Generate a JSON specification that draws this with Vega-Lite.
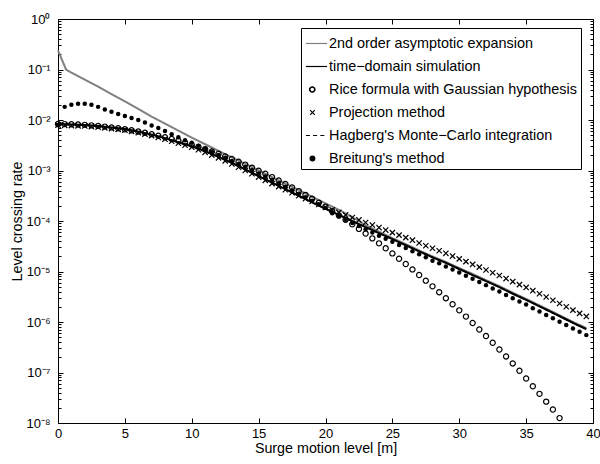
{
  "$schema": "https://vega.github.io/schema/vega-lite/v6.json",
  "width": 535,
  "height": 404,
  "autosize": {"type": "none"},
  "padding": {"left": 58, "top": 19, "right": 7, "bottom": 41},
  "background": "white",
  "config": {
    "view": {"stroke": "black", "strokeWidth": 1},
    "font": "Liberation Sans",
    "axis": {"grid": false, "domain": false, "tickColor": "black", "tickWidth": 1, "labelColor": "black", "titleColor": "black", "labelFont": "Liberation Sans", "titleFont": "Liberation Sans", "titleFontWeight": "normal"}
  },
  "datasets": {
    "gray": [{"x":0,"y":0.24},{"x":0.6,"y":0.1},{"x":1,"y":0.0871},{"x":2,"y":0.0631},{"x":3,"y":0.0457},{"x":4,"y":0.0324},{"x":5,"y":0.0234},{"x":6,"y":0.0166},{"x":7,"y":0.0117},{"x":8,"y":0.00851},{"x":9,"y":0.00617},{"x":10,"y":0.00447},{"x":11,"y":0.00331},{"x":12,"y":0.00245},{"x":13,"y":0.00182},{"x":14,"y":0.00135},{"x":15,"y":0.001},{"x":16,"y":0.000741},{"x":17,"y":0.00055},{"x":18,"y":0.000407},{"x":19,"y":0.000302},{"x":20,"y":0.000224},{"x":21,"y":0.000166},{"x":22,"y":0.00012},{"x":23,"y":8.32e-5},{"x":24,"y":6.17e-5},{"x":25,"y":4.57e-5},{"x":26,"y":3.47e-5},{"x":27,"y":2.63e-5},{"x":28,"y":2.0e-5},{"x":29,"y":1.55e-5},{"x":30,"y":1.17e-5},{"x":31,"y":8.91e-6},{"x":32,"y":6.76e-6},{"x":33,"y":5.13e-6},{"x":34,"y":3.8e-6},{"x":35,"y":2.88e-6},{"x":36,"y":2.14e-6},{"x":37,"y":1.58e-6},{"x":38,"y":1.17e-6},{"x":39,"y":8.71e-7},{"x":39.5,"y":7.59e-7}],
    "sim": [{"x":0,"y":8.32e-3},{"x":1,"y":8.13e-3},{"x":2,"y":7.94e-3},{"x":3,"y":7.59e-3},{"x":4,"y":7.08e-3},{"x":5,"y":6.61e-3},{"x":6,"y":5.89e-3},{"x":7,"y":5.13e-3},{"x":8,"y":4.37e-3},{"x":9,"y":3.63e-3},{"x":10,"y":3.02e-3},{"x":11,"y":2.40e-3},{"x":12,"y":1.86e-3},{"x":13,"y":1.41e-3},{"x":14,"y":1.05e-3},{"x":15,"y":7.76e-4},{"x":16,"y":5.75e-4},{"x":17,"y":4.27e-4},{"x":18,"y":3.16e-4},{"x":19,"y":2.34e-4},{"x":20,"y":1.74e-4},{"x":21,"y":1.32e-4},{"x":22,"y":1.00e-4},{"x":23,"y":7.59e-5},{"x":24,"y":5.75e-5},{"x":25,"y":4.37e-5},{"x":26,"y":3.31e-5},{"x":27,"y":2.51e-5},{"x":28,"y":1.91e-5},{"x":29,"y":1.48e-5},{"x":30,"y":1.12e-5},{"x":31,"y":8.51e-6},{"x":32,"y":6.46e-6},{"x":33,"y":4.90e-6},{"x":34,"y":3.63e-6},{"x":35,"y":2.75e-6},{"x":36,"y":2.04e-6},{"x":37,"y":1.51e-6},{"x":38,"y":1.12e-6},{"x":39,"y":8.32e-7},{"x":39.5,"y":7.24e-7}],
    "rice": [{"x":0,"y":8.32e-3},{"x":0.5,"y":8.30e-3},{"x":1,"y":8.24e-3},{"x":1.5,"y":8.15e-3},{"x":2,"y":8.02e-3},{"x":2.5,"y":7.83e-3},{"x":3,"y":7.64e-3},{"x":3.5,"y":7.41e-3},{"x":4,"y":7.14e-3},{"x":4.5,"y":6.87e-3},{"x":5,"y":6.56e-3},{"x":5.5,"y":6.25e-3},{"x":6,"y":5.92e-3},{"x":6.5,"y":5.58e-3},{"x":7,"y":5.24e-3},{"x":7.5,"y":4.89e-3},{"x":8,"y":4.55e-3},{"x":8.5,"y":4.21e-3},{"x":9,"y":3.87e-3},{"x":9.5,"y":3.55e-3},{"x":10,"y":3.24e-3},{"x":10.5,"y":2.94e-3},{"x":11,"y":2.65e-3},{"x":11.5,"y":2.39e-3},{"x":12,"y":2.14e-3},{"x":12.5,"y":1.90e-3},{"x":13,"y":1.69e-3},{"x":13.5,"y":1.49e-3},{"x":14,"y":1.31e-3},{"x":14.5,"y":1.14e-3},{"x":15,"y":9.93e-4},{"x":15.5,"y":8.61e-4},{"x":16,"y":7.41e-4},{"x":16.5,"y":6.37e-4},{"x":17,"y":5.43e-4},{"x":17.5,"y":4.61e-4},{"x":18,"y":3.91e-4},{"x":18.5,"y":3.29e-4},{"x":19,"y":2.75e-4},{"x":19.5,"y":2.30e-4},{"x":20,"y":1.91e-4},{"x":20.5,"y":1.57e-4},{"x":21,"y":1.29e-4},{"x":21.5,"y":1.06e-4},{"x":22,"y":8.63e-5},{"x":22.5,"y":6.98e-5},{"x":23,"y":5.64e-5},{"x":23.5,"y":4.53e-5},{"x":24,"y":3.61e-5},{"x":24.5,"y":2.88e-5},{"x":25,"y":2.28e-5},{"x":25.5,"y":1.79e-5},{"x":26,"y":1.41e-5},{"x":26.5,"y":1.10e-5},{"x":27,"y":8.53e-6},{"x":27.5,"y":6.59e-6},{"x":28,"y":5.08e-6},{"x":28.5,"y":3.89e-6},{"x":29,"y":2.96e-6},{"x":29.5,"y":2.25e-6},{"x":30,"y":1.70e-6},{"x":30.5,"y":1.28e-6},{"x":31,"y":9.55e-7},{"x":31.5,"y":7.11e-7},{"x":32,"y":5.27e-7},{"x":32.5,"y":3.88e-7},{"x":33,"y":2.85e-7},{"x":33.5,"y":2.08e-7},{"x":34,"y":1.51e-7},{"x":34.5,"y":1.08e-7},{"x":35,"y":7.6e-8},{"x":35.5,"y":5.35e-8},{"x":36,"y":3.78e-8},{"x":36.5,"y":2.65e-8},{"x":37,"y":1.85e-8},{"x":37.5,"y":1.25e-8}],
    "proj": [{"x":0,"y":7.94e-3},{"x":0.5,"y":7.85e-3},{"x":1,"y":7.76e-3},{"x":1.5,"y":7.67e-3},{"x":2,"y":7.59e-3},{"x":2.5,"y":7.41e-3},{"x":3,"y":7.24e-3},{"x":3.5,"y":7.00e-3},{"x":4,"y":6.76e-3},{"x":4.5,"y":6.53e-3},{"x":5,"y":6.31e-3},{"x":5.5,"y":5.96e-3},{"x":6,"y":5.62e-3},{"x":6.5,"y":5.25e-3},{"x":7,"y":4.90e-3},{"x":7.5,"y":4.52e-3},{"x":8,"y":4.17e-3},{"x":8.5,"y":3.80e-3},{"x":9,"y":3.47e-3},{"x":9.5,"y":3.16e-3},{"x":10,"y":2.88e-3},{"x":10.5,"y":2.57e-3},{"x":11,"y":2.29e-3},{"x":11.5,"y":2.02e-3},{"x":12,"y":1.78e-3},{"x":12.5,"y":1.55e-3},{"x":13,"y":1.35e-3},{"x":13.5,"y":1.16e-3},{"x":14,"y":1.00e-3},{"x":14.5,"y":8.61e-4},{"x":15,"y":7.41e-4},{"x":15.5,"y":6.38e-4},{"x":16,"y":5.50e-4},{"x":16.5,"y":4.79e-4},{"x":17,"y":4.17e-4},{"x":17.5,"y":3.63e-4},{"x":18,"y":3.16e-4},{"x":18.5,"y":2.77e-4},{"x":19,"y":2.43e-4},{"x":19.5,"y":2.13e-4},{"x":20,"y":1.86e-4},{"x":20.5,"y":1.66e-4},{"x":21,"y":1.48e-4},{"x":21.5,"y":1.32e-4},{"x":22,"y":1.17e-4},{"x":22.5,"y":1.05e-4},{"x":23,"y":9.33e-5},{"x":23.5,"y":8.32e-5},{"x":24,"y":7.41e-5},{"x":24.5,"y":6.61e-5},{"x":25,"y":5.89e-5},{"x":25.5,"y":5.25e-5},{"x":26,"y":4.68e-5},{"x":26.5,"y":4.17e-5},{"x":27,"y":3.67e-5},{"x":27.5,"y":3.24e-5},{"x":28,"y":2.88e-5},{"x":28.5,"y":2.57e-5},{"x":29,"y":2.29e-5},{"x":29.5,"y":2.02e-5},{"x":30,"y":1.78e-5},{"x":30.5,"y":1.57e-5},{"x":31,"y":1.38e-5},{"x":31.5,"y":1.22e-5},{"x":32,"y":1.07e-5},{"x":32.5,"y":9.44e-6},{"x":33,"y":8.32e-6},{"x":33.5,"y":7.24e-6},{"x":34,"y":6.31e-6},{"x":34.5,"y":5.50e-6},{"x":35,"y":4.84e-6},{"x":35.5,"y":4.17e-6},{"x":36,"y":3.63e-6},{"x":36.5,"y":3.13e-6},{"x":37,"y":2.69e-6},{"x":37.5,"y":2.32e-6},{"x":38,"y":2.00e-6},{"x":38.5,"y":1.72e-6},{"x":39,"y":1.48e-6},{"x":39.5,"y":1.29e-6}],
    "hag": [{"x":0,"y":8.32e-3},{"x":1,"y":8.13e-3},{"x":2,"y":7.94e-3},{"x":3,"y":7.59e-3},{"x":4,"y":7.08e-3},{"x":5,"y":6.61e-3},{"x":6,"y":5.89e-3},{"x":7,"y":5.13e-3},{"x":8,"y":4.37e-3},{"x":9,"y":3.63e-3},{"x":10,"y":3.02e-3},{"x":11,"y":2.40e-3},{"x":12,"y":1.86e-3},{"x":13,"y":1.41e-3},{"x":14,"y":1.05e-3},{"x":15,"y":7.76e-4},{"x":16,"y":5.75e-4},{"x":17,"y":4.27e-4},{"x":18,"y":3.16e-4},{"x":19,"y":2.34e-4},{"x":20,"y":1.74e-4},{"x":21,"y":1.32e-4},{"x":22,"y":1.00e-4},{"x":23,"y":7.59e-5},{"x":24,"y":5.75e-5},{"x":25,"y":4.37e-5},{"x":26,"y":3.31e-5},{"x":27,"y":2.51e-5},{"x":28,"y":1.91e-5},{"x":29,"y":1.48e-5},{"x":30,"y":1.12e-5},{"x":31,"y":8.51e-6},{"x":32,"y":6.46e-6},{"x":33,"y":4.90e-6},{"x":34,"y":3.63e-6},{"x":35,"y":2.75e-6},{"x":36,"y":2.04e-6},{"x":37,"y":1.51e-6},{"x":38,"y":1.12e-6},{"x":39,"y":8.32e-7},{"x":39.5,"y":7.24e-7}],
    "breit": [{"x":0,"y":7.94e-3},{"x":0.5,"y":1.82e-2},{"x":1,"y":2.00e-2},{"x":1.5,"y":2.09e-2},{"x":2,"y":2.09e-2},{"x":2.5,"y":2.00e-2},{"x":3,"y":1.82e-2},{"x":3.5,"y":1.62e-2},{"x":4,"y":1.45e-2},{"x":4.5,"y":1.32e-2},{"x":5,"y":1.20e-2},{"x":5.5,"y":1.10e-2},{"x":6,"y":1.00e-2},{"x":6.5,"y":8.91e-3},{"x":7,"y":7.76e-3},{"x":7.5,"y":6.92e-3},{"x":8,"y":6.03e-3},{"x":8.5,"y":5.25e-3},{"x":9,"y":4.57e-3},{"x":9.5,"y":3.98e-3},{"x":10,"y":3.55e-3},{"x":10.5,"y":3.09e-3},{"x":11,"y":2.69e-3},{"x":11.5,"y":2.34e-3},{"x":12,"y":2.04e-3},{"x":12.5,"y":1.78e-3},{"x":13,"y":1.55e-3},{"x":13.5,"y":1.35e-3},{"x":14,"y":1.17e-3},{"x":14.5,"y":1.02e-3},{"x":15,"y":8.71e-4},{"x":15.5,"y":7.59e-4},{"x":16,"y":6.46e-4},{"x":16.5,"y":5.62e-4},{"x":17,"y":4.79e-4},{"x":17.5,"y":4.07e-4},{"x":18,"y":3.47e-4},{"x":18.5,"y":2.95e-4},{"x":19,"y":2.51e-4},{"x":19.5,"y":2.14e-4},{"x":20,"y":1.82e-4},{"x":20.5,"y":1.43e-4},{"x":21,"y":1.23e-4},{"x":21.5,"y":1.06e-4},{"x":22,"y":9.12e-5},{"x":22.5,"y":7.94e-5},{"x":23,"y":6.84e-5},{"x":23.5,"y":5.89e-5},{"x":24,"y":5.13e-5},{"x":24.5,"y":4.47e-5},{"x":25,"y":3.89e-5},{"x":25.5,"y":3.35e-5},{"x":26,"y":2.92e-5},{"x":26.5,"y":2.51e-5},{"x":27,"y":2.19e-5},{"x":27.5,"y":1.91e-5},{"x":28,"y":1.64e-5},{"x":28.5,"y":1.45e-5},{"x":29,"y":1.26e-5},{"x":29.5,"y":1.10e-5},{"x":30,"y":9.55e-6},{"x":30.5,"y":8.22e-6},{"x":31,"y":7.16e-6},{"x":31.5,"y":6.17e-6},{"x":32,"y":5.37e-6},{"x":32.5,"y":4.62e-6},{"x":33,"y":4.03e-6},{"x":33.5,"y":3.43e-6},{"x":34,"y":2.95e-6},{"x":34.5,"y":2.54e-6},{"x":35,"y":2.21e-6},{"x":35.5,"y":1.88e-6},{"x":36,"y":1.62e-6},{"x":36.5,"y":1.38e-6},{"x":37,"y":1.19e-6},{"x":37.5,"y":1.01e-6},{"x":38,"y":8.71e-7},{"x":38.5,"y":7.41e-7},{"x":39,"y":6.38e-7},{"x":39.5,"y":5.50e-7}]
  },
  "encoding": {
    "x": {"field": "x", "type": "quantitative", "scale": {"domain": [0, 40], "nice": false, "zero": false}, "axis": null},
    "y": {"field": "y", "type": "quantitative", "scale": {"type": "log", "domain": [1e-8, 1], "nice": false}, "axis": null}
  },
  "layer": [
    {
      "data": {"name": "gray"},
      "mark": {"type": "line", "strokeWidth": 2},
      "encoding": {
        "x": {"field": "x", "type": "quantitative", "scale": {"domain": [0, 40], "nice": false, "zero": false},
          "axis": {"orient": "bottom", "values": [0,5,10,15,20,25,30,35,40], "tickSize": -5, "labelFontSize": 13, "labelPadding": 9, "labelFlush": false, "labelOverlap": false, "format": "d", "title": "Surge motion level [m]", "titleFontSize": 14.3, "titleY": 29, "titleBaseline": "alphabetic"}},
        "y": {"field": "y", "type": "quantitative", "scale": {"type": "log", "domain": [1e-8, 1], "nice": false},
          "axis": {"orient": "left",
            "values": [1e-8,2e-8,3e-8,4e-8,5e-8,6e-8,7e-8,8e-8,9e-8,1e-7,2e-7,3e-7,4e-7,5e-7,6e-7,7e-7,8e-7,9e-7,1e-6,2e-6,3e-6,4e-6,5e-6,6e-6,7e-6,8e-6,9e-6,1e-5,2e-5,3e-5,4e-5,5e-5,6e-5,7e-5,8e-5,9e-5,1e-4,2e-4,3e-4,4e-4,5e-4,6e-4,7e-4,8e-4,9e-4,1e-3,2e-3,3e-3,4e-3,5e-3,6e-3,7e-3,8e-3,9e-3,1e-2,2e-2,3e-2,4e-2,5e-2,6e-2,7e-2,8e-2,9e-2,0.1,0.2,0.3,0.4,0.5,0.6,0.7,0.8,0.9,1],
            "tickSize": {"condition": {"test": "abs(log(datum.value)/LN10 - round(log(datum.value)/LN10)) < 0.001", "value": -5}, "value": -3},
            "labelExpr": "abs(log(datum.value)/LN10 - round(log(datum.value)/LN10)) < 0.001 ? (round(log(datum.value)/LN10) == 0 ? '10⁰' : '10⁻' + slice('0¹²³⁴⁵⁶⁷⁸', -round(log(datum.value)/LN10), 1 - round(log(datum.value)/LN10))) : ''",
            "labelFontSize": 13, "labelPadding": 13, "labelOverlap": false, "labelBaseline": "middle", "labelFlush": false,
            "title": "Level crossing rate", "titleFontSize": 14.3, "titleX": -37, "titleY": 202, "titleBaseline": "alphabetic"}},
        "color": {"datum": "2nd order asymptotic expansion", "type": "nominal",
          "scale": {"domain": ["2nd order asymptotic expansion", "time−domain simulation", "Rice formula with Gaussian hypothesis", "Projection method", "Hagberg's Monte−Carlo integration", "Breitung's method"], "range": ["#808080", "black", "black", "black", "black", "black"]},
          "legend": {"orient": "none", "legendX": 243, "legendY": 9, "title": null, "direction": "vertical", "columns": 1,
            "strokeColor": "black", "fillColor": "white", "padding": 4, "cornerRadius": 0,
            "symbolSize": 450, "symbolOffset": 0, "symbolStrokeWidth": 1.5, "labelOffset": 1, "rowPadding": 5,
            "symbolType": {"expr": "indexof(datum.value,'Rice')>=0 ? 'M-0.66,0A0.26,0.26,0,1,1,-0.14,0A0.26,0.26,0,1,1,-0.66,0ZM-0.18,0A0.22,0.22,0,1,0,-0.62,0A0.22,0.22,0,1,0,-0.18,0Z' : (indexof(datum.value,'Projection')>=0 ? 'M-0.6,-0.22L-0.16,0.22M-0.6,0.22L-0.16,-0.22' : (indexof(datum.value,'Breitung')>=0 ? 'M-0.6,0A0.22,0.22,0,1,1,-0.16,0A0.22,0.22,0,1,1,-0.6,0Z' : (indexof(datum.value,'Hagberg')>=0 ? 'M-1,0L-0.62,0M-0.32,0L0.06,0M0.36,0L0.74,0' : 'M-1,0L1,0')))"},
            "symbolFillColor": {"expr": "indexof(datum.value,'Breitung')>=0 ? 'black' : 'transparent'"},
            "labelFontSize": 14.4, "labelFont": "Liberation Sans", "labelColor": "black", "labelLimit": 600,
            "encode": {"symbols": {"update": {
              "stroke": {"condition": {"test": "indexof(datum.value,'2nd')>=0", "value": "#808080"}, "value": "black"},
              "strokeWidth": {"condition": {"test": "indexof(datum.value,'2nd')>=0 || indexof(datum.value,'time')>=0", "value": 2}, "value": 1.2},
              "size": {"value": 450},
              "opacity": {"value": 1}
            }}}
          }}
      }
    },
    {
      "data": {"name": "sim"},
      "mark": {"type": "line", "strokeWidth": 2},
      "encoding": {
        "x": {"field": "x", "type": "quantitative", "scale": {"domain": [0, 40], "nice": false, "zero": false},
          "axis": {"orient": "top", "values": [0,5,10,15,20,25,30,35,40], "tickSize": -5, "labels": false, "title": null}},
        "y": {"field": "y", "type": "quantitative", "scale": {"type": "log", "domain": [1e-8, 1], "nice": false},
          "axis": {"orient": "right",
            "values": [1e-8,2e-8,3e-8,4e-8,5e-8,6e-8,7e-8,8e-8,9e-8,1e-7,2e-7,3e-7,4e-7,5e-7,6e-7,7e-7,8e-7,9e-7,1e-6,2e-6,3e-6,4e-6,5e-6,6e-6,7e-6,8e-6,9e-6,1e-5,2e-5,3e-5,4e-5,5e-5,6e-5,7e-5,8e-5,9e-5,1e-4,2e-4,3e-4,4e-4,5e-4,6e-4,7e-4,8e-4,9e-4,1e-3,2e-3,3e-3,4e-3,5e-3,6e-3,7e-3,8e-3,9e-3,1e-2,2e-2,3e-2,4e-2,5e-2,6e-2,7e-2,8e-2,9e-2,0.1,0.2,0.3,0.4,0.5,0.6,0.7,0.8,0.9,1],
            "tickSize": {"condition": {"test": "abs(log(datum.value)/LN10 - round(log(datum.value)/LN10)) < 0.001", "value": -5}, "value": -3},
            "labels": false, "title": null}},
        "color": {"datum": "time−domain simulation", "type": "nominal"}
      }
    },
    {
      "data": {"name": "rice"},
      "mark": {"type": "point", "shape": "circle", "filled": false, "size": 27, "strokeWidth": 1.2, "opacity": 1},
      "encoding": {"color": {"datum": "Rice formula with Gaussian hypothesis", "type": "nominal"}}
    },
    {
      "data": {"name": "proj"},
      "mark": {"type": "point", "shape": "M-1,-1L1,1M-1,1L1,-1", "filled": false, "size": 28, "strokeWidth": 1.2, "opacity": 1},
      "encoding": {"color": {"datum": "Projection method", "type": "nominal"}}
    },
    {
      "data": {"name": "hag"},
      "mark": {"type": "line", "strokeWidth": 1.5, "strokeDash": [4, 3]},
      "encoding": {"color": {"datum": "Hagberg's Monte−Carlo integration", "type": "nominal"}}
    },
    {
      "data": {"name": "breit"},
      "mark": {"type": "point", "shape": "circle", "filled": true, "size": 20, "opacity": 1},
      "encoding": {"color": {"datum": "Breitung's method", "type": "nominal"}}
    }
  ],
  "resolve": {"scale": {"x": "independent", "y": "independent"}, "axis": {"x": "independent", "y": "independent"}}
}
